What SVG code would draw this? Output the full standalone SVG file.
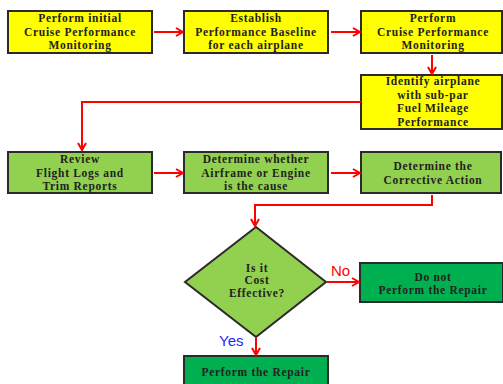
<svg xmlns="http://www.w3.org/2000/svg" width="503" height="384" viewBox="0 0 503 384">
<defs>
<marker id="ah" markerWidth="10" markerHeight="10" refX="8" refY="5" orient="auto" markerUnits="userSpaceOnUse">
<path d="M1,1 L8,5 L1,9" fill="none" stroke="#ff0000" stroke-width="2"/>
</marker>
</defs>
<style>
.y{fill:#ffff00;stroke:#2a2a2a;stroke-width:2}
.g{fill:#92d050;stroke:#2a2a2a;stroke-width:2}
.d{fill:#00b050;stroke:#2a2a2a;stroke-width:2}
.t{font-family:"Liberation Serif","Times New Roman",serif;font-weight:bold;font-size:11.5px;letter-spacing:0.7px;fill:#222;text-anchor:middle}
.c{fill:none;stroke:#ff0000;stroke-width:2;marker-end:url(#ah)}
.l{font-family:"Liberation Sans",Arial,sans-serif;font-size:15px}
</style>
<rect width="503" height="384" fill="#ffffff"/>
<g id="n1"><rect class="y" x="8" y="11" width="144" height="42"/>
<text class="t" x="80" y="22">Perform initial</text><text class="t" x="80" y="36">Cruise Performance</text><text class="t" x="80" y="49">Monitoring</text></g>
<g id="n2"><rect class="y" x="184" y="11" width="144" height="42"/>
<text class="t" x="256" y="22">Establish</text><text class="t" x="256" y="36">Performance Baseline</text><text class="t" x="256" y="49">for each airplane</text></g>
<g id="n3"><rect class="y" x="361" y="11" width="141" height="42"/>
<text class="t" x="433" y="22">Perform</text><text class="t" x="433" y="36">Cruise Performance</text><text class="t" x="433" y="49">Monitoring</text></g>
<g id="n4"><rect class="y" x="361" y="75" width="141" height="54"/>
<text class="t" x="433" y="85">Identify airplane</text><text class="t" x="433" y="99">with sub-par</text><text class="t" x="433" y="112">Fuel Mileage</text><text class="t" x="433" y="126">Performance</text></g>
<g id="n5"><rect class="g" x="8" y="152" width="144" height="41"/>
<text class="t" x="80" y="163">Review</text><text class="t" x="80" y="177">Flight Logs and</text><text class="t" x="80" y="190">Trim Reports</text></g>
<g id="n6"><rect class="g" x="184" y="152" width="144" height="41"/>
<text class="t" x="256" y="163">Determine whether</text><text class="t" x="256" y="177">Airframe or Engine</text><text class="t" x="256" y="190">is the cause</text></g>
<g id="n7"><rect class="g" x="361" y="152" width="140" height="41"/>
<text class="t" x="433" y="170">Determine the</text><text class="t" x="433" y="184">Corrective Action</text></g>
<g id="n8"><polygon class="g" points="256,227 326,282 256,337 185,282"/>
<text class="t" x="257" y="272">Is it</text><text class="t" x="257" y="284">Cost</text><text class="t" x="257" y="297">Effective?</text></g>
<g id="n9"><rect class="d" x="360" y="263" width="143" height="39"/>
<text class="t" x="433" y="281">Do not</text><text class="t" x="433" y="294">Perform the Repair</text></g>
<g id="n10"><rect class="d" x="184" y="356" width="144" height="40"/>
<text class="t" x="256" y="376">Perform the Repair</text></g>
<g id="connectors">
<path class="c" d="M154,32 L183,32"/>
<path class="c" d="M331,32 L360,32"/>
<path class="c" d="M432,55 L432,74"/>
<path class="c" d="M361,102 L82,102 L82,150"/>
<path class="c" d="M154,173 L183,173"/>
<path class="c" d="M331,173 L360,173"/>
<path class="c" d="M432,195 L432,205 L255,205 L255,226"/>
<path class="c" d="M327,282 L359,282"/>
<path class="c" d="M256,338 L256,355"/>
<text class="l" x="331" y="276" fill="#ff0000">No</text>
<text class="l" x="219" y="346" fill="#1f1fff">Yes</text>
</g>
</svg>
